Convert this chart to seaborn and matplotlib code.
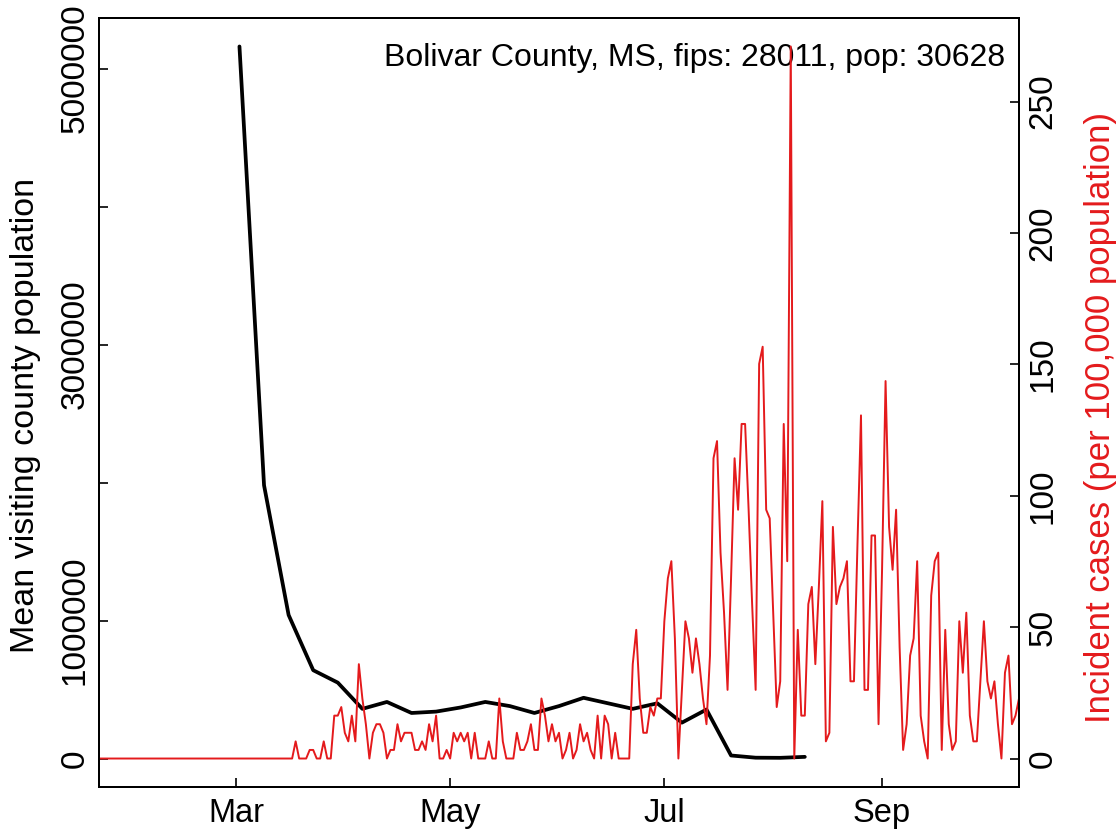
import pandas as pd
import seaborn as sns
import matplotlib.pyplot as plt

# county info
county_title = "Bolivar County, MS, fips: 28011, pop: 30628"
county_pop = 30628

# daily reported cases, 2020-01-22 .. 2020-10-10
case_dates = pd.date_range("2020-01-22", "2020-10-10", freq="D")
daily_cases = [
    0, 0, 0, 0, 0, 0, 0, 0, 0, 0, 0, 0, 0, 0, 0, 0, 0, 0, 0, 0,
    0, 0, 0, 0, 0, 0, 0, 0, 0, 0, 0, 0, 0, 0, 0, 0, 0, 0, 0, 0,
    0, 0, 0, 0, 0, 0, 0, 0, 0, 0, 0, 0, 0, 0, 0, 0,
    2, 0, 0, 0, 1, 1, 0, 0, 2, 0, 0, 5, 5, 6, 3, 2, 5, 2, 11, 7,
    4, 0, 3, 4, 4, 3, 0, 1, 1, 4, 2, 3, 3, 3, 1, 1, 2, 1, 4, 2,
    5, 0, 0, 1, 0, 3, 2, 3, 2, 3, 0, 3, 0, 0, 0, 2, 0, 0, 7, 2,
    0, 0, 0, 3, 1, 1, 2, 4, 1, 1, 7, 5, 2, 4, 2, 3, 0, 1, 3, 0,
    1, 4, 2, 3, 1, 0, 5, 0, 5, 4, 0, 3, 0, 0, 0, 0, 11, 15, 7, 3,
    3, 6, 5, 7, 7, 16, 21, 23, 14, 0, 8, 16, 14, 10, 14, 11, 7, 4, 12, 35,
    37, 24, 17, 8, 21, 35, 29, 39, 39, 29, 18, 8, 46, 48, 29, 28, 17, 6, 9, 39,
    23, 83, 0, 15, 5, 5, 18, 20, 11, 20, 30, 2, 3, 27, 18, 20, 21, 23, 9, 9,
    25, 40, 8, 8, 26, 26, 4, 22, 44, 27, 22, 29, 13, 1, 4, 12, 14, 23, 5, 2,
    0, 19, 23, 24, 1, 15, 4, 1, 2, 16, 10, 17, 5, 2, 2, 9, 16, 9, 7, 9,
    4, 0, 10, 12, 4, 5, 7,
]

# weekly mean visiting population
visit_dates = pd.date_range("2020-03-02", periods=24, freq="7D")
visit_pop = [
    5160000, 1980000, 1040000, 640000, 550000, 360000, 410000, 330000,
    340000, 370000, 410000, 380000, 330000, 380000, 440000, 400000,
    360000, 400000, 260000, 355000, 22000, 6000, 5000, 12000,
]

month_ticks = pd.to_datetime(["2020-03-01", "2020-05-01", "2020-07-01", "2020-09-01"])
month_labels = ["Mar", "May", "Jul", "Sep"]
left_ticks = [0, 1000000, 2000000, 3000000, 4000000, 5000000]
left_labels = ["0", "1000000", "", "3000000", "", "5000000"]
right_ticks = [0, 50, 100, 150, 200, 250]

df_cases = pd.DataFrame({"date": case_dates, "cases": daily_cases})
df_cases["incidence"] = df_cases["cases"] / county_pop * 100000
df_visit = pd.DataFrame({"date": visit_dates, "pop": visit_pop})

sns.set_style("ticks", rc={"axes.edgecolor": "black", "text.color": "black",
                           "axes.labelcolor": "black", "xtick.color": "black",
                           "ytick.color": "black"})
plt.rcParams["font.family"] = ["Liberation Sans", "DejaVu Sans"]
red = "#E41A1C"

fig = plt.figure(figsize=(11.19, 8.30), dpi=100)
ax = fig.add_axes([99 / 1119, 1 - 787 / 830, 920 / 1119, 769 / 830])
ax2 = ax.twinx()

sns.lineplot(data=df_cases, x="date", y="incidence", ax=ax2, color=red, linewidth=1.4)
sns.lineplot(data=df_visit, x="date", y="pop", ax=ax, color="black", linewidth=2.7)

vmax = df_visit["pop"].max()
ax.set_ylim(-0.04 * vmax, 1.04 * vmax)
imax = df_cases["incidence"].max()
ax2.set_ylim(-0.04 * imax, 1.04 * imax)
ax.set_xlim(case_dates[0], case_dates[-1])

ax.set_xticks(month_ticks)
ax.set_xticklabels(month_labels, fontsize=23.5)
ax.set_yticks(left_ticks)
ax.set_yticklabels(left_labels, rotation=90, va="center", fontsize=24)
ax2.set_yticks(right_ticks)
ax2.set_yticklabels([str(t) for t in right_ticks], rotation=90, va="center", fontsize=24)

for a in (ax, ax2):
    a.tick_params(direction="in", length=6.5, width=1.2, pad=8)
    a.tick_params(axis="y", pad=6)
    for s in a.spines.values():
        s.set_visible(True)
        s.set_linewidth(1.4)
        s.set_color("black")

ax.set_xlabel("")
ax.set_ylabel("Mean visiting county population", fontsize=24.5)
ax2.set_ylabel("Incident cases (per 100,000 population)", fontsize=25, color=red)
ax.yaxis.set_label_coords(-0.063, 0.483)
ax2.yaxis.set_label_coords(1.0885, 0.481)
ax2.yaxis.label.set_va("center")

ax.text(0.985, 0.948, county_title, transform=ax.transAxes, ha="right", va="center", fontsize=23)

plt.savefig("out.png", dpi=100)
plt.close()
